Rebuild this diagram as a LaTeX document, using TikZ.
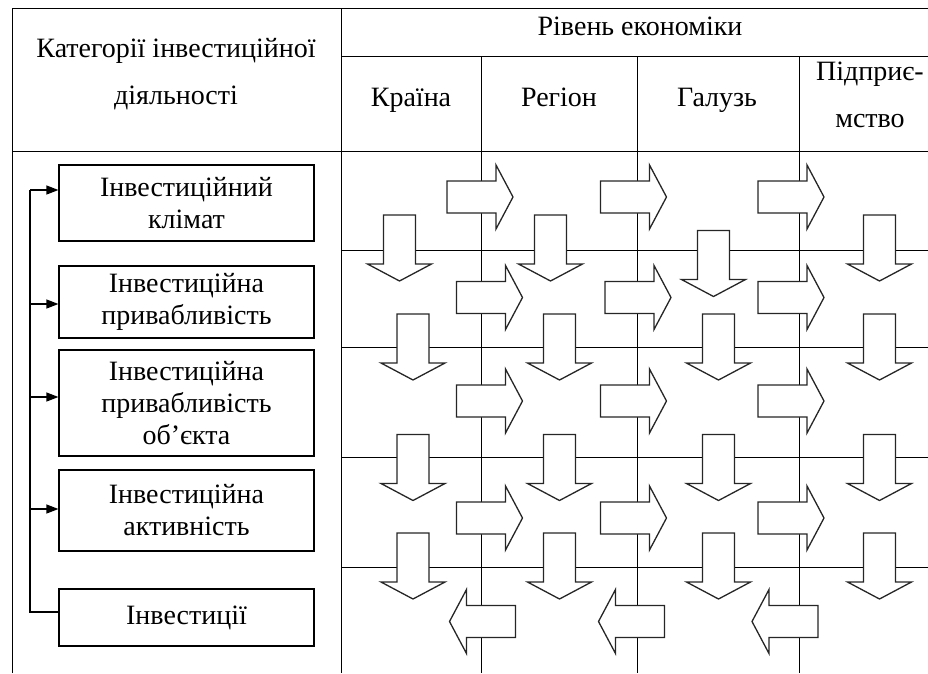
\documentclass[tikz,border=0pt]{standalone}
\usepackage{fontspec}
\setmainfont{Liberation Serif}[Script=Cyrillic]
\usetikzlibrary{arrows.meta}
\begin{document}
\begin{tikzpicture}[x=1pt, y=-1pt,
    rule/.style={line width=1pt},
    head/.style={align=center, font=\rmfamily\fontsize{28}{47}\selectfont},
    catbox/.style={draw, line width=1.2pt, fill=white, minimum width=255pt,
      align=center, font=\rmfamily\fontsize{28}{32}\selectfont},
    bus/.style={line width=1.2pt},
    feed/.style={line width=1.2pt, -{Triangle[length=12pt,width=9pt]}},
    blk/.style={draw=black!85, line width=1.3pt, fill=white},
    blkarrow/.pic={
      \path[blk] (-33,-16) -- (16,-16) -- (16,-32) -- (33,0) -- (16,32)
        -- (16,16) -- (-33,16) -- cycle;}]
  \useasboundingbox (0,0) rectangle (928,673);
  % table
  \draw[rule] (12,673) -- (12,8) -- (928,8);
  \draw[rule] (341,8) -- (341,673);
  \draw[rule] (341,56) -- (928,56);
  \draw[rule] (12,151) -- (928,151);
  \foreach \x in {481,637,799}
    \draw[rule] (\x,56) -- (\x,673);
  \foreach \y in {250,347,457,567}
    \draw[rule] (341,\y) -- (928,\y);
  % headers
  \node[head] (cat) at (176,74) {Категорії інвестиційної\\діяльності};
  \node[head, anchor=base] (level) at (640,35) {Рівень економіки};
  \node[head, anchor=base] (country) at (411,106) {Країна};
  \node[head, anchor=base] (region) at (559,106) {Регіон};
  \node[head, anchor=base] (branch) at (717,106) {Галузь};
  \node[head] (firm) at (870,94.5) {Підприє-\\мство};
  % categories
  \node[catbox, minimum height=76pt] (climate) at (186.5,203) {Інвестиційний\\клімат};
  \node[catbox, minimum height=72pt] (appeal) at (186.5,302) {Інвестиційна\\привабливість};
  \node[catbox, minimum height=106pt] (object) at (186.5,403) {Інвестиційна\\привабливість\\об’єкта};
  \node[catbox, minimum height=81pt] (activity) at (186.5,510.5) {Інвестиційна\\активність};
  \node[catbox, minimum height=57pt] (invest) at (186.5,617.5) {Інвестиції};
  \coordinate (b1) at (30,190);
  \coordinate (b2) at (30,304);
  \coordinate (b3) at (30,397);
  \coordinate (b4) at (30,509);
  \coordinate (b5) at (30,612);
  \draw[bus] (b1) -- (b5) -- (b5 -| invest.west);
  \draw[feed] (b1) -- (b1 -| climate.west);
  \draw[feed] (b2) -- (b2 -| appeal.west);
  \draw[feed] (b3) -- (b3 -| object.west);
  \draw[feed] (b4) -- (b4 -| activity.west);
  % block arrows
  \foreach \x/\y in {480/197, 633.5/197, 791/197,
      489.5/297.5, 638/297.5, 791/297.5,
      489.5/401, 633.5/401, 791/401,
      489.5/518, 633.5/518, 791/518}
    \pic at (\x,\y) {blkarrow};
  \foreach \x/\y in {399.5/248, 550.5/248, 713.5/263.5, 879.5/248,
      413/347, 559.5/347, 718.5/347, 879.5/347,
      413/467.5, 559.5/467.5, 718.5/467.5, 879.5/467.5,
      413/566, 559.5/566, 718.5/566, 879.5/566}
    \pic[rotate=-90] at (\x,\y) {blkarrow};
  \foreach \x in {482.5,631.5,785}
    \pic[rotate=180] at (\x,621.5) {blkarrow};
\end{tikzpicture}
\end{document}
